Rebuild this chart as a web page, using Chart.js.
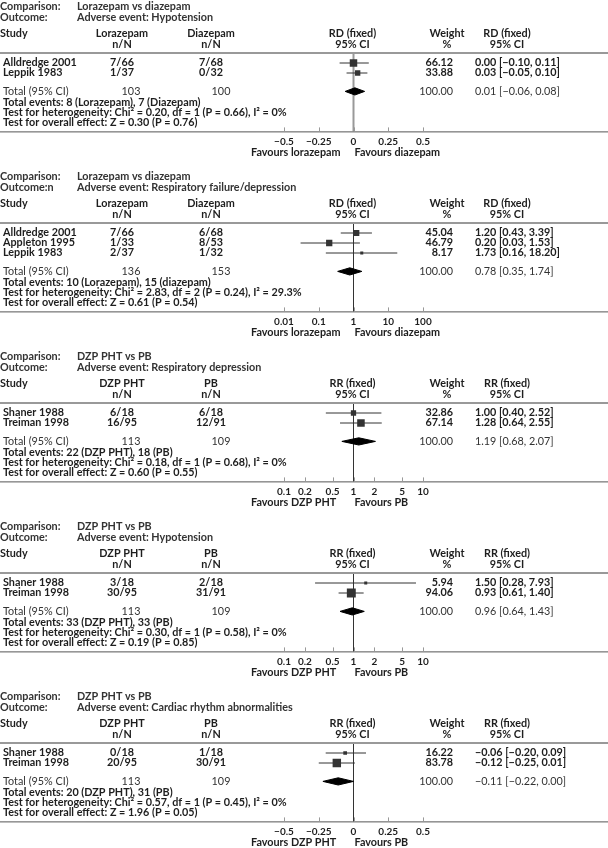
<!DOCTYPE html>
<html>
<head>
<meta charset="utf-8">
<script src="https://cdn.jsdelivr.net/npm/chart.js@4.4.1/dist/chart.umd.min.js"></script>
<style>
  html, body { margin: 0; padding: 0; background: #fff; }
  canvas { position: absolute; left: 0; }
</style>
</head>
<body>
<canvas id="p1" width="608" height="170" style="top:0px"></canvas>
<canvas id="p2" width="608" height="180" style="top:170px"></canvas>
<canvas id="p3" width="608" height="170" style="top:350px"></canvas>
<canvas id="p4" width="608" height="170" style="top:520px"></canvas>
<canvas id="p5" width="608" height="158" style="top:690px"></canvas>
<script>
// tick sets
const rdTicks = [-0.5, -0.25, 0, 0.25, 0.5];
const rdTickLabels = ['−0.5', '−0.25', '0', '0.25', '0.5'];
const wideLogTicks = [0.01, 0.1, 1, 10, 100];
const wideLogLabels = ['0.01', '0.1', '1', '10', '100'];
const logTicks = [0.1, 0.2, 0.5, 1, 2, 5, 10];
const logTickLabels = ['0.1', '0.2', '0.5', '1', '2', '5', '10'];

// 1. Lorazepam vs diazepam - hypotension
const hypoStudies = ['Alldredge 2001', 'Leppik 1983'];
const hypoLzp = ['7/66', '1/37'];
const hypoDzp = ['7/68', '0/32'];
const hypoEst = [0.00, 0.03];
const hypoLow = [-0.10, -0.05];
const hypoHigh = [0.11, 0.10];
const hypoWeight = [66.12, 33.88];
const hypoTotals = ['103', '100'];
const hypoPooled = [0.01, -0.06, 0.08];
const hypoNotes = ['Total events: 8 (Lorazepam), 7 (Diazepam)',
  'Test for heterogeneity: Chi² = 0.20, df = 1 (P = 0.66), I² = 0%',
  'Test for overall effect: Z = 0.30 (P = 0.76)'];

// 2. Lorazepam vs diazepam - respiratory failure
const respStudies = ['Alldredge 2001', 'Appleton 1995', 'Leppik 1983'];
const respLzp = ['7/66', '1/33', '2/37'];
const respDzp = ['6/68', '8/53', '1/32'];
const respEst = [1.20, 0.20, 1.73];
const respLow = [0.43, 0.03, 0.16];
const respHigh = [3.39, 1.53, 18.20];
const respWeight = [45.04, 46.79, 8.17];
const respTotals = ['136', '153'];
const respPooled = [0.78, 0.35, 1.74];
const respNotes = ['Total events: 10 (Lorazepam), 15 (diazepam)',
  'Test for heterogeneity: Chi² = 2.83, df = 2 (P = 0.24), I² = 29.3%',
  'Test for overall effect: Z = 0.61 (P = 0.54)'];

// 3. DZP PHT vs PB - respiratory depression
const rdepStudies = ['Shaner 1988', 'Treiman 1998'];
const rdepDzp = ['6/18', '16/95'];
const rdepPb = ['6/18', '12/91'];
const rdepEst = [1.00, 1.28];
const rdepLow = [0.40, 0.64];
const rdepHigh = [2.52, 2.55];
const rdepWeight = [32.86, 67.14];
const rdepTotals = ['113', '109'];
const rdepPooled = [1.19, 0.68, 2.07];
const rdepNotes = ['Total events: 22 (DZP PHT), 18 (PB)',
  'Test for heterogeneity: Chi² = 0.18, df = 1 (P = 0.68), I² = 0%',
  'Test for overall effect: Z = 0.60 (P = 0.55)'];

// 4. DZP PHT vs PB - hypotension
const bpStudies = ['Shaner 1988', 'Treiman 1998'];
const bpDzp = ['3/18', '30/95'];
const bpPb = ['2/18', '31/91'];
const bpEst = [1.50, 0.93];
const bpLow = [0.28, 0.61];
const bpHigh = [7.93, 1.40];
const bpWeight = [5.94, 94.06];
const bpTotals = ['113', '109'];
const bpPooled = [0.96, 0.64, 1.43];
const bpNotes = ['Total events: 33 (DZP PHT), 33 (PB)',
  'Test for heterogeneity: Chi² = 0.30, df = 1 (P = 0.58), I² = 0%',
  'Test for overall effect: Z = 0.19 (P = 0.85)'];

// 5. DZP PHT vs PB - cardiac rhythm
const cardStudies = ['Shaner 1988', 'Treiman 1998'];
const cardDzp = ['0/18', '20/95'];
const cardPb = ['1/18', '30/91'];
const cardEst = [-0.06, -0.12];
const cardLow = [-0.20, -0.25];
const cardHigh = [0.09, 0.01];
const cardWeight = [16.22, 83.78];
const cardTotals = ['113', '109'];
const cardPooled = [-0.11, -0.22, 0.00];
const cardNotes = ['Total events: 20 (DZP PHT), 31 (PB)',
  'Test for heterogeneity: Chi² = 0.57, df = 1 (P = 0.45), I² = 0%',
  'Test for overall effect: Z = 1.96 (P = 0.05)'];

const FONT = 'Lato, "Open Sans", sans-serif';

function fmt(v) {
  return (v < 0 ? '−' : '') + Math.abs(v).toFixed(2);
}
function ciText(e, l, h) {
  return fmt(e) + ' [' + fmt(l) + ', ' + fmt(h) + ']';
}

function txt(ctx, s, x, y, align, bold, color) {
  ctx.font = (bold ? 'bold ' : '') + '10.8px ' + FONT;
  ctx.textAlign = align;
  ctx.textBaseline = 'middle';
  ctx.fillStyle = color || '#1e1e1e';
  ctx.fillText(s, x, y);
}

function drawPanel(id, p) {
  const canvas = document.getElementById(id);
  const H = canvas.height;
  const n = p.studies.length;
  const totalY = n + 1.84;
  const yMax = totalY + 4.0;

  const datasets = [];
  // study squares, size by weight
  datasets.push({
    data: p.est.map((e, i) => ({ x: e, y: i + 1 })),
    showLine: false,
    pointStyle: 'rect',
    pointRadius: p.weight.map(w => Math.max(3, 9.2 * Math.sqrt(w / 100)) / Math.SQRT2),
    pointBackgroundColor: '#333',
    pointBorderWidth: 0
  });
  // pooled diamond
  datasets.push({
    data: [
      { x: p.pooled[1], y: totalY },
      { x: p.pooled[0], y: totalY - 0.36 },
      { x: p.pooled[2], y: totalY },
      { x: p.pooled[0], y: totalY + 0.36 },
      { x: p.pooled[1], y: totalY }
    ],
    borderColor: '#000',
    backgroundColor: '#000',
    borderWidth: 1,
    pointRadius: 0,
    fill: 'shape'
  });
  // confidence intervals
  p.est.forEach((e, i) => {
    datasets.push({
      data: [{ x: p.low[i], y: i + 1 }, { x: p.high[i], y: i + 1 }],
      borderColor: '#333',
      borderWidth: 1,
      pointRadius: 0,
      fill: false
    });
  });
  // line of no effect
  datasets.push({
    data: [{ x: p.ref, y: 0 }, { x: p.ref, y: yMax }],
    borderColor: p.refColor,
    borderWidth: p.refWidth,
    pointRadius: 0,
    fill: false
  });

  const textPlugin = {
    id: 'forestText',
    afterDraw(chart) {
      const ctx = chart.ctx;
      const xs = chart.scales.x, ys = chart.scales.y;
      const lineY = ys.getPixelForValue(0);
      const axisY = ys.getPixelForValue(yMax);
      const refX = xs.getPixelForValue(p.ref);
      ctx.save();
      // horizontal rules
      ctx.strokeStyle = '#999';
      ctx.lineWidth = 2;
      ctx.beginPath(); ctx.moveTo(0, lineY); ctx.lineTo(608, lineY); ctx.stroke();
      ctx.strokeStyle = '#555';
      ctx.lineWidth = 1;
      ctx.beginPath(); ctx.moveTo(0, axisY + 0.5); ctx.lineTo(608, axisY + 0.5); ctx.stroke();
      // tick marks pointing up
      ctx.strokeStyle = '#999';
      p.ticks.forEach(t => {
        const tx = Math.round(xs.getPixelForValue(t)) + 0.5;
        ctx.beginPath(); ctx.moveTo(tx, axisY - 4); ctx.lineTo(tx, axisY); ctx.stroke();
      });

      // titles
      txt(ctx, 'Comparison:', 0, lineY - 46, 'left', true, '#333');
      txt(ctx, p.comparison, 77, lineY - 46, 'left', true, '#333');
      txt(ctx, p.outcomeLabel, 0, lineY - 35, 'left', true, '#333');
      txt(ctx, p.outcome, 77, lineY - 35, 'left', true, '#333');
      // column headers
      const h1 = lineY - 19, h2 = lineY - 8;
      txt(ctx, 'Study', 0, h1, 'left', true);
      txt(ctx, p.treatName, 122, h1, 'center', true);
      txt(ctx, 'n/N', 122, h2, 'center', true);
      txt(ctx, p.ctrlName, 211, h1, 'center', true);
      txt(ctx, 'n/N', 211, h2, 'center', true);
      txt(ctx, p.measure, refX - 1, h1, 'center', true);
      txt(ctx, '95% CI', refX - 1, h2, 'center', true);
      txt(ctx, 'Weight', 447, h1, 'center', true);
      txt(ctx, '%', 447, h2, 'center', true);
      txt(ctx, p.measure, 507, h1, 'center', true);
      txt(ctx, '95% CI', 507, h2, 'center', true);
      // study rows
      p.studies.forEach((s, i) => {
        const ry = ys.getPixelForValue(i + 1);
        txt(ctx, s, 3, ry, 'left', true);
        txt(ctx, p.treat[i], 122, ry, 'center', true);
        txt(ctx, p.ctrl[i], 211, ry, 'center', true);
        txt(ctx, p.weight[i].toFixed(2), 453, ry, 'right', true);
        txt(ctx, ciText(p.est[i], p.low[i], p.high[i]), 475, ry, 'left', true);
      });
      // total row
      const ty = ys.getPixelForValue(totalY);
      txt(ctx, 'Total (95% CI)', 3, ty, 'left', false, '#333');
      txt(ctx, p.totals[0], 131, ty, 'center', false, '#333');
      txt(ctx, p.totals[1], 221, ty, 'center', false, '#333');
      txt(ctx, '100.00', 453, ty, 'right', false, '#333');
      txt(ctx, ciText(p.pooled[0], p.pooled[1], p.pooled[2]), 475, ty, 'left', false, '#333');
      // summary notes
      [1.1, 2.1, 3.15].forEach((off, k) => {
        txt(ctx, p.notes[k], 3, ys.getPixelForValue(totalY + off), 'left', true);
      });
      // favours labels
      txt(ctx, p.favLeft, xs.left - 33, axisY + 21, 'left', true);
      txt(ctx, p.favRight, refX + 1, axisY + 21, 'left', true);
      ctx.restore();
    }
  };

  new Chart(canvas, {
    type: 'line',
    data: { datasets },
    options: {
      responsive: false,
      animation: false,
      events: [],
      layout: { padding: { left: 284, right: 185, top: 53, bottom: 0 } },
      plugins: { legend: { display: false }, tooltip: { enabled: false } },
      scales: {
        x: {
          type: p.xType,
          min: p.ticks[0],
          max: p.ticks[p.ticks.length - 1],
          afterBuildTicks: s => { s.ticks = p.ticks.map(v => ({ value: v })); },
          afterFit: s => { s.height = H - 53 - yMax * 10; },
          grid: { display: false, drawTicks: false },
          border: { display: false },
          ticks: {
            autoSkip: false,
            maxRotation: 0,
            padding: 4,
            color: '#1e1e1e',
            font: { family: FONT, weight: 'bold', size: 10 },
            callback: (v, i) => p.tickLabels[i]
          }
        },
        y: { type: 'linear', reverse: true, min: 0, max: yMax, display: false }
      }
    },
    plugins: [textPlugin]
  });
}

drawPanel('p1', {
  comparison: 'Lorazepam vs diazepam', outcomeLabel: 'Outcome:', outcome: 'Adverse event: Hypotension',
  treatName: 'Lorazepam', ctrlName: 'Diazepam', measure: 'RD (fixed)',
  studies: hypoStudies, treat: hypoLzp, ctrl: hypoDzp, est: hypoEst, low: hypoLow, high: hypoHigh,
  weight: hypoWeight, totals: hypoTotals, pooled: hypoPooled, notes: hypoNotes,
  xType: 'linear', ticks: rdTicks, tickLabels: rdTickLabels, ref: 0, refColor: '#999', refWidth: 2,
  favLeft: 'Favours lorazepam', favRight: 'Favours diazepam'
});
drawPanel('p2', {
  comparison: 'Lorazepam vs diazepam', outcomeLabel: 'Outcome:n', outcome: 'Adverse event: Respiratory failure/depression',
  treatName: 'Lorazepam', ctrlName: 'Diazepam', measure: 'RD (fixed)',
  studies: respStudies, treat: respLzp, ctrl: respDzp, est: respEst, low: respLow, high: respHigh,
  weight: respWeight, totals: respTotals, pooled: respPooled, notes: respNotes,
  xType: 'logarithmic', ticks: wideLogTicks, tickLabels: wideLogLabels, ref: 1, refColor: '#333', refWidth: 1,
  favLeft: 'Favours lorazepam', favRight: 'Favours diazepam'
});
drawPanel('p3', {
  comparison: 'DZP PHT vs PB', outcomeLabel: 'Outcome:', outcome: 'Adverse event: Respiratory depression',
  treatName: 'DZP PHT', ctrlName: 'PB', measure: 'RR (fixed)',
  studies: rdepStudies, treat: rdepDzp, ctrl: rdepPb, est: rdepEst, low: rdepLow, high: rdepHigh,
  weight: rdepWeight, totals: rdepTotals, pooled: rdepPooled, notes: rdepNotes,
  xType: 'logarithmic', ticks: logTicks, tickLabels: logTickLabels, ref: 1, refColor: '#333', refWidth: 1,
  favLeft: 'Favours DZP PHT', favRight: 'Favours PB'
});
drawPanel('p4', {
  comparison: 'DZP PHT vs PB', outcomeLabel: 'Outcome:', outcome: 'Adverse event: Hypotension',
  treatName: 'DZP PHT', ctrlName: 'PB', measure: 'RR (fixed)',
  studies: bpStudies, treat: bpDzp, ctrl: bpPb, est: bpEst, low: bpLow, high: bpHigh,
  weight: bpWeight, totals: bpTotals, pooled: bpPooled, notes: bpNotes,
  xType: 'logarithmic', ticks: logTicks, tickLabels: logTickLabels, ref: 1, refColor: '#333', refWidth: 1,
  favLeft: 'Favours DZP PHT', favRight: 'Favours PB'
});
drawPanel('p5', {
  comparison: 'DZP PHT vs PB', outcomeLabel: 'Outcome:', outcome: 'Adverse event: Cardiac rhythm abnormalities',
  treatName: 'DZP PHT', ctrlName: 'PB', measure: 'RR (fixed)',
  studies: cardStudies, treat: cardDzp, ctrl: cardPb, est: cardEst, low: cardLow, high: cardHigh,
  weight: cardWeight, totals: cardTotals, pooled: cardPooled, notes: cardNotes,
  xType: 'linear', ticks: rdTicks, tickLabels: rdTickLabels, ref: 0, refColor: '#333', refWidth: 1,
  favLeft: 'Favours DZP PHT', favRight: 'Favours PB'
});
</script>
</body>
</html>
